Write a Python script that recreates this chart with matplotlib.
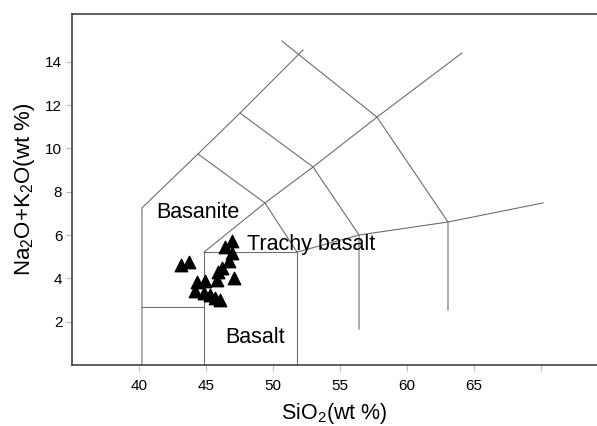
import matplotlib
matplotlib.use('Agg')
import matplotlib.pyplot as plt

plt.rcParams['font.family'] = ['Liberation Sans', 'DejaVu Sans']
plt.rcParams['mathtext.fontset'] = 'custom'
plt.rcParams['mathtext.rm'] = 'Liberation Sans'
plt.rcParams['mathtext.default'] = 'regular'

# sample points (SiO2, Na2O+K2O)
sio2 = [43.16, 43.71, 46.94, 46.44, 46.94, 46.69, 46.19, 45.90, 47.07,
        45.82, 44.95, 44.33, 44.20, 44.83, 45.32, 45.69, 46.07]
alk = [4.60, 4.75, 5.71, 5.43, 5.17, 4.81, 4.48, 4.29, 4.01,
       3.94, 3.86, 3.83, 3.40, 3.32, 3.24, 3.09, 3.01]

# field boundaries as drawn in the diagram
bound_x = [
    [40.22, 40.22, 44.40, 47.54, 52.24],
    [50.67, 57.76, 63.06, 63.06],
    [44.85, 49.40, 52.99, 57.76, 64.10],
    [44.40, 49.40, 51.79],
    [47.54, 52.99, 56.42, 56.42],
    [51.79, 56.42, 63.06, 70.15],
    [44.85, 44.85, 51.79, 51.79],
    [40.22, 44.85],
]
bound_y = [
    [0, 7.25, 9.74, 11.63, 14.54],
    [14.95, 11.44, 6.60, 2.54],
    [5.21, 7.48, 9.14, 11.44, 14.40],
    [9.74, 7.48, 5.21],
    [11.63, 9.14, 6.00, 1.66],
    [5.21, 6.00, 6.60, 7.48],
    [0, 5.21, 5.21, 0],
    [2.68, 2.68],
]

fields = ['Basanite', 'Trachy basalt', 'Basalt']
field_x = [44.40, 48.06, 48.66]
field_y = [7.06, 5.58, 1.29]
field_ha = ['center', 'left', 'center']

xticks = [40, 45, 50, 55, 60, 65, 70]
xlabels = ['40', '45', '50', '55', '60', '65', '']
yticks = [2, 4, 6, 8, 10, 12, 14]

fig = plt.figure(figsize=(5.97, 4.26), dpi=100)
ax = fig.add_axes([0.1206, 0.1432, 0.8794, 0.8239])

for bx, by in zip(bound_x, bound_y):
    ax.plot(bx, by, color='#6e6e6e', linewidth=0.8)

ax.scatter(sio2, alk, marker='^', s=80, color='black', zorder=3)

for name, fx, fy, ha in zip(fields, field_x, field_y, field_ha):
    ax.text(fx, fy, name, fontsize=15.5, ha=ha, va='center', color='black')

ax.set_xlim(35, 74.18)
ax.set_ylim(0, 16.2)
ax.set_xticks(xticks)
ax.set_xticklabels(xlabels)
ax.set_yticks(yticks)
ax.tick_params(axis='both', direction='out', length=4, color='#bbbbbb',
               labelsize=11)
ax.tick_params(axis='x', pad=6)
ax.tick_params(axis='y', pad=3)

ax.spines['right'].set_visible(False)
for s in ['left', 'bottom', 'top']:
    ax.spines[s].set_color('#333333')
    ax.spines[s].set_linewidth(1.1)

ax.set_xlabel('SiO$_2$(wt %)', fontsize=15.5, labelpad=6)
ax.set_ylabel('Na$_2$O+K$_2$O(wt %)', fontsize=16, labelpad=6)

fig.savefig('out.png', dpi=100)
